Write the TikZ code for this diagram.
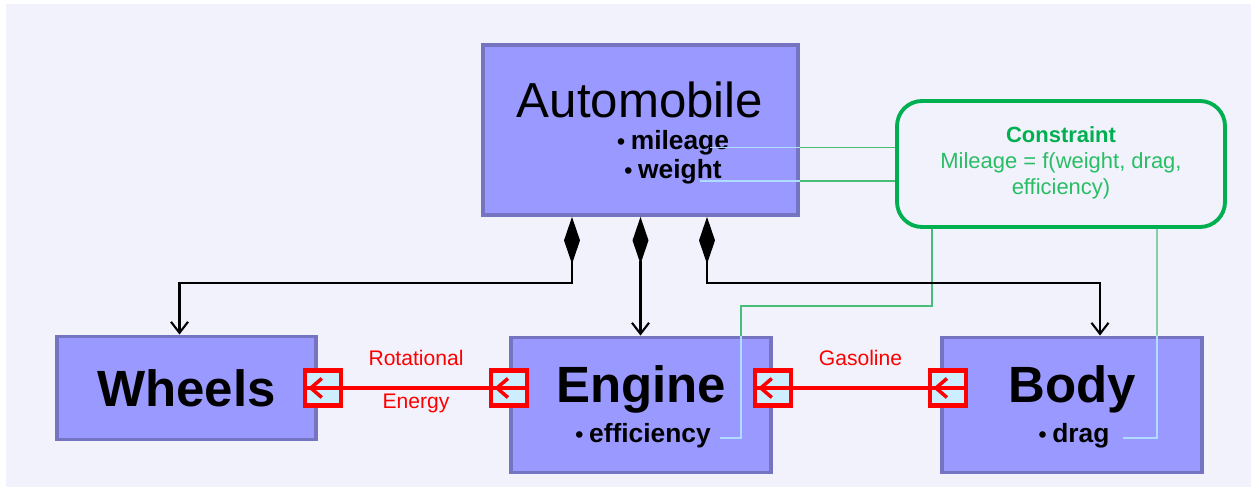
\documentclass[tikz,border=0pt]{standalone}
\usepackage{fontspec}
\setmainfont{Liberation Sans}
\usetikzlibrary{arrows.meta,positioning,calc}
\definecolor{bgcol}{RGB}{242,242,253}
\definecolor{boxfill}{RGB}{153,153,255}
\definecolor{boxline}{RGB}{116,116,192}
\definecolor{congreen}{RGB}{0,176,80}
\definecolor{contxt}{RGB}{40,190,100}
\definecolor{linkgreen}{RGB}{70,190,120}
\definecolor{linkblue}{RGB}{175,220,255}
\definecolor{portfill}{RGB}{204,238,255}
\newcommand{\bul}{{\fontsize{13}{13}\selectfont\textbullet}\hspace{0.22em}}

\begin{document}
\begin{tikzpicture}[
  block/.style={draw=boxline,fill=boxfill,line width=2.2pt,inner sep=0pt},
  title/.style={font=\fontsize{29}{34}\selectfont\bfseries},
  attr/.style={font=\fontsize{15}{18}\selectfont\bfseries},
  compo/.style={line width=1.2pt,{Diamond[length=0.94cm,width=0.32cm]}-{Straight Barb[length=0.22cm,width=0.34cm]}},
  port/.style={draw=red,fill=portfill,line width=2.4pt,minimum width=0.72cm,minimum height=0.7cm,inner sep=0pt},
  flow/.style={red,line width=2pt},
  flowtip/.style={red,line width=2pt,-{Straight Barb[length=0.22cm,width=0.38cm]}},
  flowlabel/.style={red,font=\fontsize{12}{14}\selectfont},
  link/.style={linkgreen,line width=0.7pt},
  linkin/.style={linkblue,line width=0.7pt}]
\useasboundingbox (0,0) rectangle (25.02,9.74);
\fill[bgcol] (0.12,0) rectangle (25.02,9.66);

\node[block,minimum width=6.3cm,minimum height=3.4cm] (auto) at (12.81,7.14) {};
\node[block,minimum width=5.18cm,minimum height=2.06cm] (wheels) at (3.73,1.98) {};
\node[block,minimum width=5.2cm,minimum height=2.7cm] (engine) at (12.82,1.64) {};
\node[block,minimum width=5.2cm,minimum height=2.7cm] (body) at (21.44,1.64) {};
\node[draw=congreen,fill=bgcol,line width=2.2pt,rounded corners=0.5cm,minimum width=6.56cm,minimum height=2.52cm] (con) at (21.22,6.46) {};

\node[font=\fontsize{28}{32}\selectfont] (autoname) at (12.8,7.74) {Automobile};
\node[attr] (mileage) at (13.46,6.88) {\bul mileage};
\node[attr] (weight) at (13.46,6.3) {\bul weight};
\node[title] (wheelsname) at (wheels) {Wheels};
\node[title] (enginename) at ([yshift=0.32cm]engine.center) {Engine};
\node[attr] (efficiency) at (12.86,1.02) {\bul efficiency};
\node[title] (bodyname) at ([yshift=0.32cm]body.center) {Body};
\node[attr] (drag) at (21.48,1.02) {\bul drag};
\node[align=center,font=\fontsize{12.5}{14.8}\selectfont] (context) at (21.22,6.48) {\textcolor{congreen}{\bfseries Constraint}\\ \textcolor{contxt}{Mileage = f(weight, drag,}\\ \textcolor{contxt}{efficiency)}};

\coordinate (mtip) at (14.2,6.79);
\coordinate (wtip) at (14.0,6.12);
\coordinate (ecorner) at (14.82,0.98);
\coordinate (etip) at (14.4,0.98);
\coordinate (dcorner) at (23.14,0.98);
\coordinate (dtip) at (22.46,0.98);
\draw[link] (con.west |- mtip) -- (auto.east |- mtip);
\draw[linkin] (auto.east |- mtip) -- (mtip);
\draw[link] (con.west |- wtip) -- (auto.east |- wtip);
\draw[linkin] (auto.east |- wtip) -- (wtip);
\draw[link] ([xshift=-2.58cm]con.south) -- ++(0,-1.54) -| (ecorner |- engine.north);
\draw[linkin] (ecorner |- engine.north) -- (ecorner) -- (etip);
\draw[link] ([xshift=1.92cm]con.south) -- (dcorner |- body.north);
\draw[linkin] (dcorner |- body.north) -- (dcorner) -- (dtip);

\draw[compo] ([xshift=-1.37cm]auto.south) -- ++(0,-1.32) -| ([xshift=-0.14cm]wheels.north);
\draw[compo] (auto.south) -- (auto.south |- engine.north);
\draw[compo] ([xshift=1.33cm]auto.south) -- ++(0,-1.32) -| ([xshift=0.56cm]body.north);

\node[port] (wout) at ([xshift=0.1cm]wheels.east) {};
\node[port] (ein) at ([yshift=0.34cm]engine.west) {};
\node[port] (eout) at ([yshift=0.34cm]engine.east) {};
\node[port] (bin) at ([xshift=0.16cm,yshift=0.34cm]body.west) {};

\draw[flow] (ein.east) -- node[flowlabel,yshift=0.6cm] {Rotational} node[flowlabel,yshift=-0.3cm] {Energy} (wout.west);
\draw[flowtip] (wout.center) -- ([xshift=3pt]wout.west);
\draw[flowtip] (ein.center) -- ([xshift=3pt]ein.west);
\draw[flow] (bin.east) -- node[flowlabel,yshift=0.6cm] {Gasoline} (eout.west);
\draw[flowtip] (eout.center) -- ([xshift=3pt]eout.west);
\draw[flowtip] (bin.center) -- ([xshift=3pt]bin.west);
\end{tikzpicture}
\end{document}
